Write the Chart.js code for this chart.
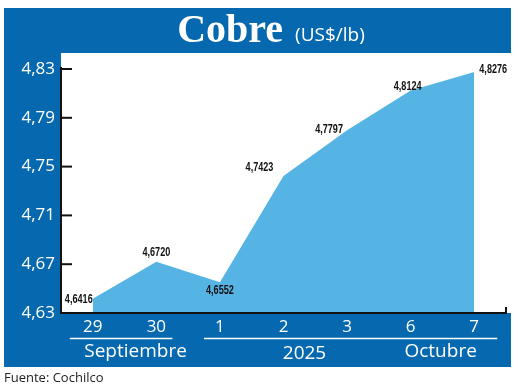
<!DOCTYPE html>
<html><head><meta charset="utf-8">
<script src="https://cdn.jsdelivr.net/npm/chart.js@4/dist/chart.umd.min.js"></script>
<style>html,body{margin:0;padding:0;background:#fff;}canvas{display:block;}</style>
</head><body>
<canvas id="c" width="520" height="388"></canvas>
<script>
const categories = ['29', '30', '1', '2', '3', '6', '7'];
const cobreValues = [4.6416, 4.6720, 4.6552, 4.7423, 4.7797, 4.8124, 4.8276];
const valueLabels = ['4,6416', '4,6720', '4,6552', '4,7423', '4,7797', '4,8124', '4,8276'];
const yTicks = [4.63, 4.67, 4.71, 4.75, 4.79, 4.83];
const groupLabels = ['Septiembre', '2025', 'Octubre'];

const BLUE = '#0668ae';
const FILL = '#56b4e4';
const SANS = "'Open Sans', 'Noto Sans', sans-serif";

// label placement relative to point: [dx, dy]
const labelPlace = [
  [-14, 1], [0, -9], [0, 8], [-24, -9], [-18, -1], [-3, -4], [19, -3]
];

const decor = {
  id: 'decor',
  beforeDraw(chart) {
    const ctx = chart.ctx, a = chart.chartArea;
    ctx.save();
    ctx.fillStyle = '#fff';
    ctx.fillRect(0, 0, chart.width, chart.height);
    ctx.fillStyle = BLUE;
    ctx.fillRect(4, 8, 507, 359);
    ctx.fillStyle = '#fff';
    ctx.fillRect(a.left, 53, chart.width - a.left, a.bottom - 53);
    ctx.restore();
  },
  afterDraw(chart) {
    const ctx = chart.ctx, a = chart.chartArea;
    const x = chart.scales.x, y = chart.scales.y;
    ctx.save();
    // title
    ctx.fillStyle = '#fff';
    ctx.textBaseline = 'alphabetic';
    const f1 = "bold 40px 'Liberation Serif', 'DejaVu Serif', serif";
    const f2 = "19px " + SANS;
    ctx.font = f1;
    const t1 = 'Cobre';
    const w1 = ctx.measureText(t1).width;
    ctx.font = f2;
    const t2 = '(US$/lb)';
    const w2 = ctx.measureText(t2).width;
    const gap = 12;
    const startX = 271 - (w1 + gap + w2) / 2;
    ctx.font = f1;
    ctx.textAlign = 'left';
    ctx.fillText(t1, startX, 42);
    ctx.font = f2;
    ctx.fillText(t2, startX + w1 + gap, 41);

    // axes
    ctx.strokeStyle = '#111';
    ctx.lineWidth = 2;
    ctx.beginPath();
    ctx.moveTo(a.left, 67);
    ctx.lineTo(a.left, a.bottom);
    ctx.lineTo(a.right, a.bottom);
    ctx.lineTo(a.right, a.bottom - 6);
    ctx.stroke();
    y.ticks.forEach((tk, i) => {
      const py = y.getPixelForTick(i);
      ctx.beginPath();
      ctx.moveTo(a.left, py);
      ctx.lineTo(a.left + 11, py);
      ctx.stroke();
    });

    // value labels (condensed bold)
    const meta = chart.getDatasetMeta(0);
    ctx.fillStyle = '#111';
    ctx.font = "bold 13px 'Liberation Sans', 'Arimo', sans-serif";
    ctx.textBaseline = 'middle';
    ctx.textAlign = 'center';
    meta.data.forEach((pt, i) => {
      const p = labelPlace[i];
      ctx.save();
      ctx.translate(pt.x + p[0], pt.y + p[1]);
      ctx.scale(0.7, 1);
      ctx.fillText(valueLabels[i], 0, 0);
      ctx.restore();
    });

    // group lines + labels
    ctx.strokeStyle = '#fff';
    ctx.lineWidth = 1.5;
    const lineY = 338.5;
    const x0 = x.getPixelForValue(0), x1 = x.getPixelForValue(1);
    const x2 = x.getPixelForValue(2), x6 = x.getPixelForValue(6);
    ctx.beginPath();
    ctx.moveTo(x0 - 23, lineY); ctx.lineTo(x1 + 16, lineY);
    ctx.moveTo(x2 - 16, lineY); ctx.lineTo(x6 + 23, lineY);
    ctx.stroke();
    ctx.fillStyle = '#fff';
    ctx.font = "19px " + SANS;
    ctx.textAlign = 'center';
    ctx.textBaseline = 'middle';
    ctx.fillText(groupLabels[0], (x0 + x1) / 2 + 11, 352);
    ctx.fillText(groupLabels[1], x.getPixelForValue(3) + 21, 354);
    ctx.fillText(groupLabels[2], x.getPixelForValue(5) + 30, 352);

    // source
    ctx.fillStyle = '#222';
    ctx.font = "13px " + SANS;
    ctx.textAlign = 'left';
    ctx.fillText('Fuente: Cochilco', 4, 378);
    ctx.restore();
  }
};

new Chart(document.getElementById('c'), {
  type: 'line',
  data: {
    labels: categories,
    datasets: [{
      data: cobreValues,
      backgroundColor: FILL,
      borderWidth: 0,
      borderColor: FILL,
      fill: 'start',
      tension: 0,
      pointRadius: 0
    }]
  },
  options: {
    responsive: false,
    animation: false,
    devicePixelRatio: 1,
    layout: { padding: { left: 4, right: 14, top: 69, bottom: 45 } },
    plugins: { legend: { display: false }, tooltip: { enabled: false }, title: { display: false } },
    scales: {
      x: {
        offset: true,
        grid: { display: false, drawTicks: false },
        border: { display: false },
        ticks: { color: '#fff', font: { family: SANS, size: 17 }, padding: 4, maxRotation: 0 },
        afterFit(s) { s.height = 30; }
      },
      y: {
        min: 4.63, max: 4.83,
        grid: { display: false, drawTicks: false },
        border: { display: false },
        afterBuildTicks(s) { s.ticks = yTicks.map(v => ({ value: v })); },
        ticks: {
          color: '#fff', font: { family: SANS, size: 17 }, padding: 6,
          callback: v => Number(v).toFixed(2).replace('.', ',')
        },
        afterFit(s) { s.width = 57; }
      }
    }
  },
  plugins: [decor]
});
</script>
</body></html>
